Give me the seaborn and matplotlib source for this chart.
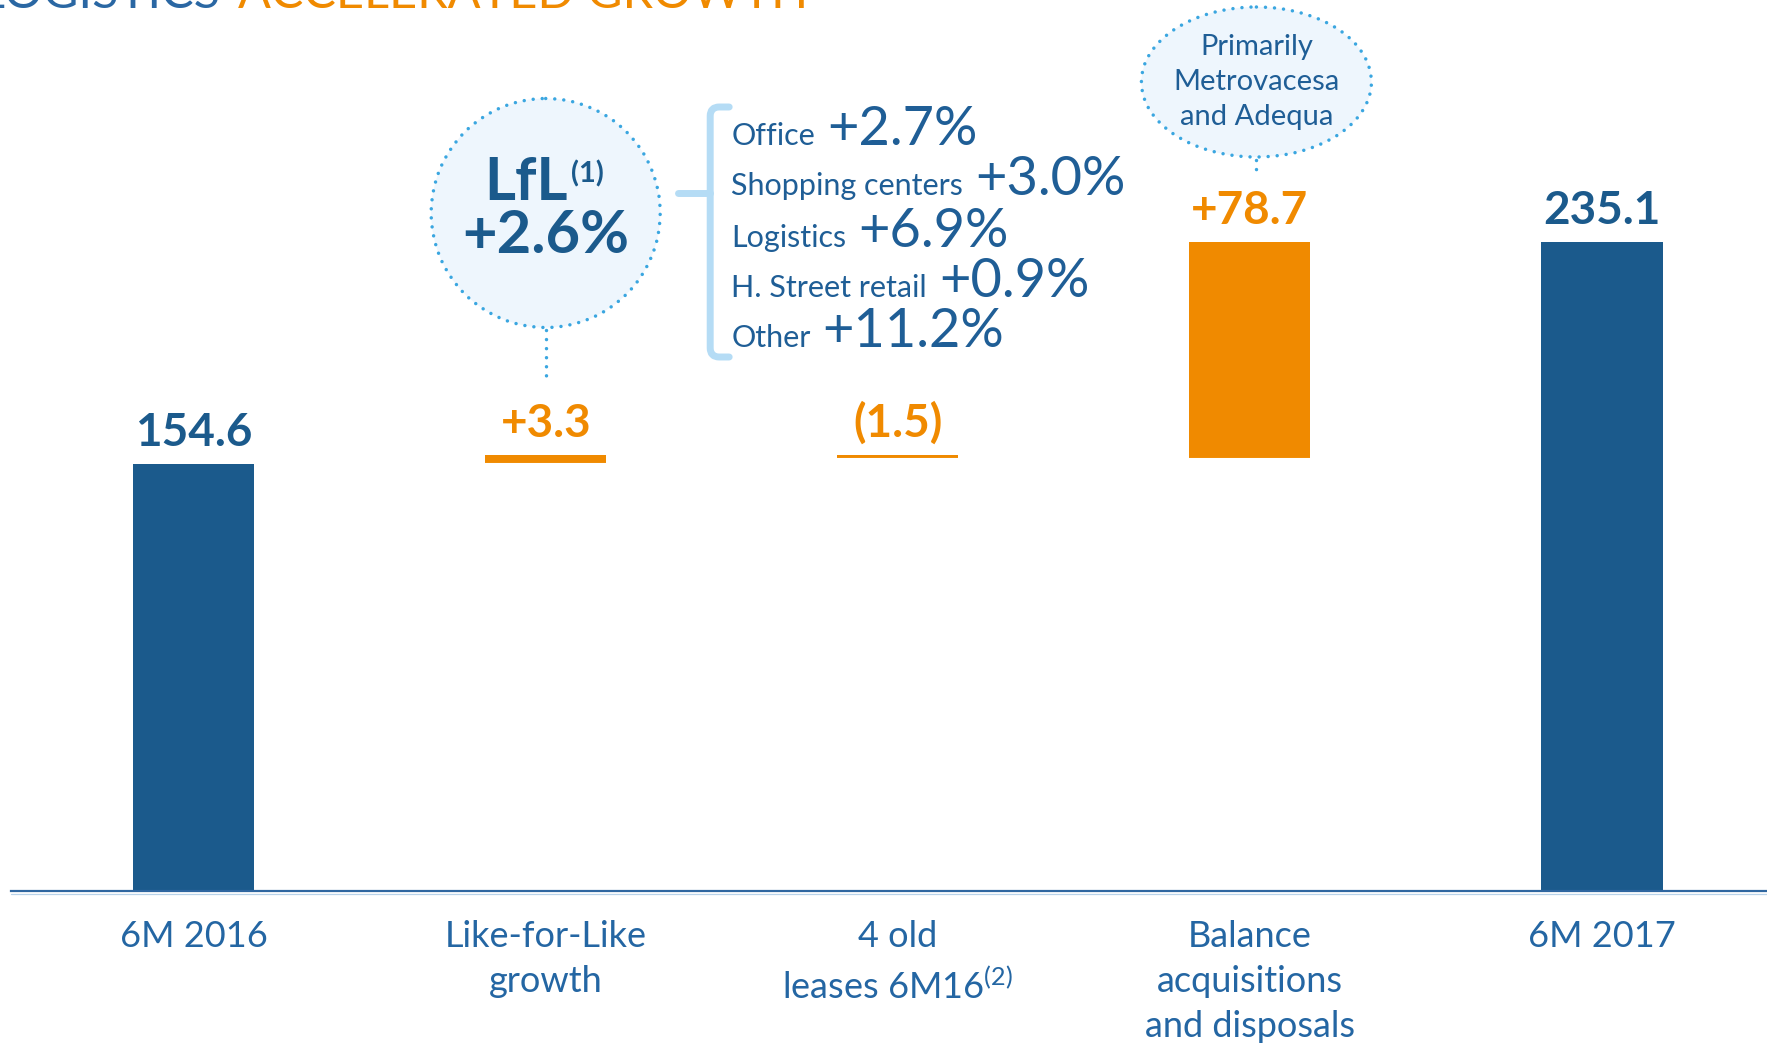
import numpy as np
import pandas as pd
import matplotlib
matplotlib.use("Agg")
import matplotlib.pyplot as plt
from matplotlib.patches import Circle, Ellipse, PathPatch
from matplotlib.path import Path
import seaborn as sns

# ---------------- data ----------------
steps = ["6M 2016", "LfL", "Old leases", "Balance", "6M 2017"]
start_value = 154.6
changes = [3.3, -1.5, 78.7]
end_value = 235.1
value_labels = ["154.6", "+3.3", "(1.5)", "+78.7", "235.1"]
tick_labels = ["6M 2016", "Like-for-Like\ngrowth", "4 old\nleases 6M16$^{(2)}$",
               "Balance\nacquisitions\nand disposals", "6M 2017"]
segment_names = ["Office", "Shopping centers", "Logistics", "H. Street retail", "Other"]
segment_growth = ["+2.7%", "+3.0%", "+6.9%", "+0.9%", "+11.2%"]
lfl_total = "+2.6%"
bubble_note = ["Primarily", "Metrovacesa", "and Adequa"]
title_parts = ["LOGISTICS", "ACCELERATED GROWTH"]

# ---------------- style ----------------
BLUE = "#1b5a8c"
ORANGE = "#f08a00"
TICK_C = "#2466a3"
TEXT_C = "#1f5e96"
DOT_C = "#3aa6e0"
FILL_C = "#eef6fd"
BRACKET_C = "#b5dcf5"

W, H, DPI = 1767, 1046, 100

sns.set_theme(style="white")
plt.rcParams["font.family"] = ["Lato", "DejaVu Sans"]
plt.rcParams["mathtext.default"] = "regular"

# waterfall geometry from data
levels = [start_value]
for c in changes:
    levels.append(levels[-1] + c)
tops = [start_value]
bases = [0.0]
for prev, new in zip(levels[:-1], levels[1:]):
    tops.append(max(prev, new))
    bases.append(min(prev, new))
tops.append(end_value)
bases.append(0.0)
kinds = ["total"] + ["change"] * len(changes) + ["total"]
df = pd.DataFrame({"step": steps, "top": tops, "base": bases, "kind": kinds})

fig = plt.figure(figsize=(W / DPI, H / DPI), dpi=DPI)
fig.patch.set_facecolor("white")

ax_left, ax_right, ax_bottom = 11, 1767, 891
ax = fig.add_axes([ax_left / W, (H - ax_bottom) / H, (ax_right - ax_left) / W, ax_bottom / H])
ax.patch.set_visible(False)

BAR_W = 0.3437
sns.barplot(data=df, x="step", y="top", hue="kind", order=steps,
            palette={"total": BLUE, "change": ORANGE}, width=BAR_W, dodge=False,
            legend=False, saturation=1, linewidth=0, ax=ax)
sns.barplot(data=df[df["kind"] == "change"], x="step", y="base", order=steps,
            color="white", width=BAR_W, saturation=1, linewidth=1.5,
            edgecolor="white", ax=ax)

ax.set_xlim(-0.5186, 4.4686)
ax.set_ylim(0, 891 / 2.76)
for s in ["left", "top", "right"]:
    ax.spines[s].set_visible(False)
ax.spines["bottom"].set_color("#2f66a0")
ax.spines["bottom"].set_linewidth(1.6)
ax.set_yticks([])
ax.set_xlabel("")
ax.set_ylabel("")
ax.set_xticks(range(len(steps)))
ax.set_xticklabels(tick_labels, fontsize=26, color=TICK_C, linespacing=1.45)
ax.tick_params(axis="x", length=0, pad=21)

# value labels
for i, (lab, top, kind) in enumerate(zip(value_labels, tops, kinds)):
    ax.annotate(lab, xy=(i, top), xytext=(0, 13), textcoords="offset points",
                ha="center", va="baseline", fontsize=33, fontweight="bold",
                color=BLUE if kind == "total" else ORANGE)

# ---------------- overlay in pixel coordinates ----------------
ov = fig.add_axes([0, 0, 1, 1], zorder=5)
ov.set_xlim(0, W)
ov.set_ylim(H, 0)
ov.axis("off")
ov.patch.set_visible(False)

def px(i):
    return ax.transData.transform((i, 0))[0]

dot_ls = (0, (0.01, 2.6))

# light line under axis
ov.plot([ax_left, ax_right], [893.5, 893.5], color="#b9d3ea", lw=0.9)

# LfL circle
cx1 = px(1)
circ = Circle((cx1, 213), 114.5, facecolor=FILL_C, edgecolor=DOT_C, linewidth=2.5,
              linestyle=dot_ls)
circ.set_capstyle("round")
ov.add_patch(circ)
ov.plot([cx1, cx1], [330, 383], color=DOT_C, lw=2.5, linestyle=dot_ls,
        dash_capstyle="round")
ov.text(cx1 + 22, 200, "LfL", ha="right", va="baseline", fontsize=43,
        fontweight="bold", color=BLUE)
ov.text(cx1 + 25, 182, "(1)", ha="left", va="baseline", fontsize=21,
        fontweight="bold", color=BLUE)
ov.text(cx1, 253, lfl_total, ha="center", va="baseline", fontsize=43,
        fontweight="bold", color=BLUE)

# bracket + list
dx = cx1 - 532.5
bx = 697 + dx
verts = [(bx + 19, 107), (bx + 9, 107), (bx, 107), (bx, 116), (bx, 348),
         (bx, 357), (bx + 9, 357), (bx + 19, 357)]
codes = [Path.MOVETO, Path.LINETO, Path.CURVE3, Path.CURVE3, Path.LINETO,
         Path.CURVE3, Path.CURVE3, Path.LINETO]
ov.add_patch(PathPatch(Path(verts, codes), facecolor="none", edgecolor=BRACKET_C,
                       lw=5, capstyle="round", joinstyle="round"))
ov.plot([665 + dx, bx], [193, 193], color=BRACKET_C, lw=5, solid_capstyle="round")

fig.canvas.draw()
renderer = fig.canvas.get_renderer()
baselines = [145, 195, 247, 297, 347]
for name, g, yb in zip(segment_names, segment_growth, baselines):
    t = ov.text(718 + dx, yb, name, ha="left", va="baseline", fontsize=22,
                color=TEXT_C)
    bb = t.get_window_extent(renderer=renderer)
    ov.text(bb.x1 + 12, yb, g, ha="left", va="baseline", fontsize=39,
            fontweight="normal", color=TEXT_C)

# bubble for acquisitions
cx3 = px(3) + 6.5
ell = Ellipse((cx3, 82), 230, 150, facecolor=FILL_C, edgecolor=DOT_C, linewidth=2.5,
              linestyle=dot_ls)
ell.set_capstyle("round")
ov.add_patch(ell)
ov.plot([cx3, cx3], [160, 178], color=DOT_C, lw=2.5, linestyle=dot_ls,
        dash_capstyle="round")
for line, yb in zip(bubble_note, [55, 90, 125]):
    ov.text(cx3, yb, line, ha="center", va="baseline", fontsize=21, color=TEXT_C)

# clipped title at the very top
ov.text(221, 8, title_parts[0], ha="right", va="baseline", fontsize=35,
        fontweight="normal", color="#2a67a3")
ov.text(238, 8, title_parts[1], ha="left", va="baseline", fontsize=35,
        fontweight="normal", color=ORANGE)

fig.savefig("out.png", dpi=DPI, facecolor="white")
